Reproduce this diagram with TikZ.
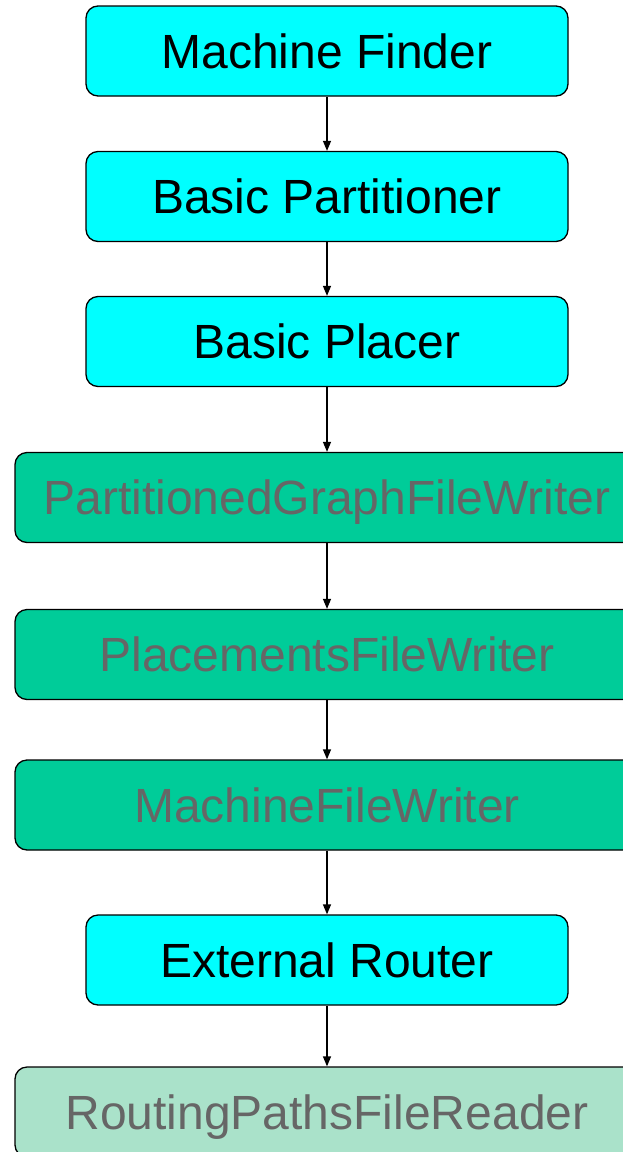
\documentclass[tikz,border=0pt]{standalone}
\usepackage{fontspec}
\setmainfont{Liberation Sans}
\usetikzlibrary{arrows.meta}
\definecolor{stepcyan}{HTML}{00FFFF}
\definecolor{filegreen}{HTML}{00CC99}
\definecolor{readgreen}{HTML}{AAE2CA}
\definecolor{filetext}{HTML}{666666}
\tikzset{
  box/.style={draw=black, line width=1.3pt, rounded corners=12pt,
    minimum height=90pt, text height=34.4pt, text depth=0pt,
    inner sep=0pt, font=\fontsize{48}{56}\selectfont},
  algo/.style={box, fill=stepcyan, minimum width=482pt, text=black},
  writer/.style={box, fill=filegreen, minimum width=624pt, text=filetext},
  reader/.style={box, fill=readgreen, minimum width=624pt, text=filetext},
  flow/.style={line width=1.3pt, -{Triangle[length=10pt,width=8pt]}}
}
\begin{document}
\begin{tikzpicture}[x=1pt,y=1pt]
\useasboundingbox (0,0) rectangle (623,-1152);
\clip (0,0) rectangle (623,-1152);
\node[algo]   (mf)  at (327,-51)    {Machine Finder};
\node[algo]   (bp)  at (327,-196.5) {Basic Partitioner};
\node[algo]   (bpl) at (327,-341.5) {Basic Placer};
\node[writer] (pgw) at (327,-497.5) {PartitionedGraphFileWriter};
\node[writer] (pfw) at (327,-654.5) {PlacementsFileWriter};
\node[writer] (mfw) at (327,-805)   {MachineFileWriter};
\node[algo]   (er)  at (327,-960)   {External Router};
\node[reader] (rpr) at (327,-1112)  {RoutingPathsFileReader};
\draw[flow] (mf)  -- (bp);
\draw[flow] (bp)  -- (bpl);
\draw[flow] (bpl) -- (pgw);
\draw[flow] (pgw) -- (pfw);
\draw[flow] (pfw) -- (mfw);
\draw[flow] (mfw) -- (er);
\draw[flow] (er)  -- (rpr);
\end{tikzpicture}
\end{document}
